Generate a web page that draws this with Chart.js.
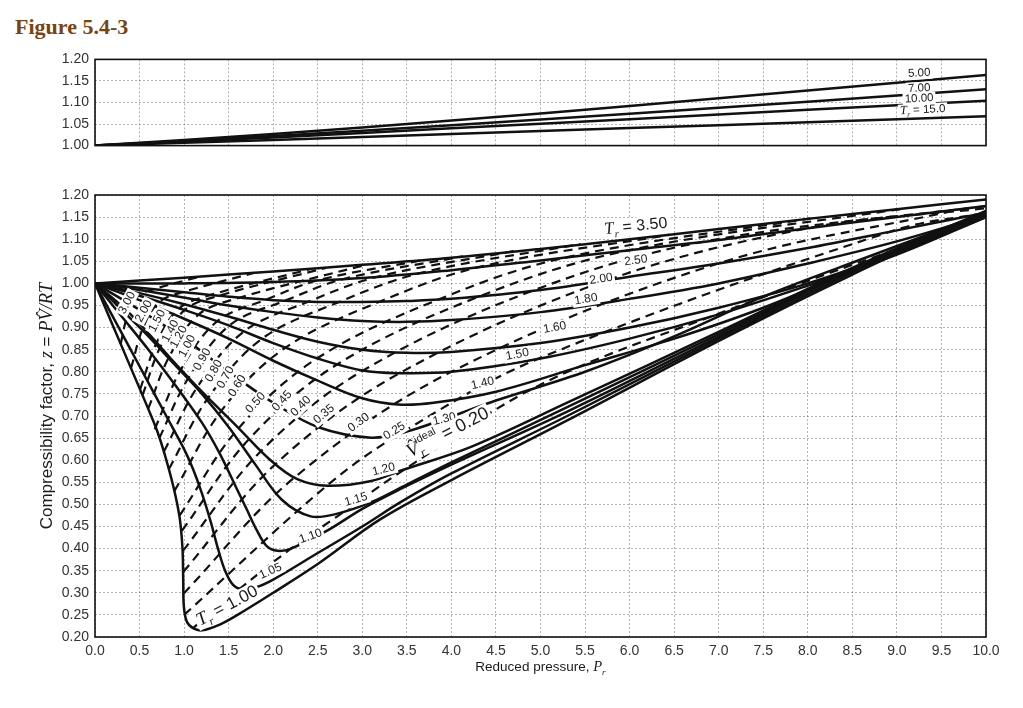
<!DOCTYPE html>
<html lang="en">
<head>
<meta charset="UTF-8">
<title>Figure 5.4-3</title>
<script src="https://cdn.jsdelivr.net/npm/chart.js"></script>
<style>
  body { margin: 0; background: #fff; width: 1023px; height: 708px; overflow: hidden; position: relative; }
  #fig { position: absolute; left: 15px; top: 14px; font: bold 22px "Liberation Serif", serif; color: #7a4410; }
  #topWrap { position: absolute; left: 0; top: 45px; width: 1023px; height: 115px; }
  #mainWrap { position: absolute; left: 0; top: 180px; width: 1023px; height: 528px; }
</style>
</head>
<body>
<div id="fig">Figure 5.4-3</div>
<div id="topWrap"><canvas id="topChart" width="1023" height="115"></canvas></div>
<div id="mainWrap"><canvas id="mainChart" width="1023" height="528"></canvas></div>
<script>
// ---- isotherms, high Tr (upper panel): [Pr, z]
const tr500 = [[0,1],[2,1.027],[4,1.058],[6,1.092],[8,1.128],[10,1.164]];
const tr700 = [[0,1],[2,1.022],[4,1.047],[6,1.074],[8,1.102],[10,1.131]];
const tr1000 = [[0,1],[2,1.019],[4,1.040],[6,1.061],[8,1.083],[10,1.104]];
const tr1500 = [[0,1],[2,1.013],[4,1.027],[6,1.041],[8,1.054],[10,1.068]];

// ---- isotherms (main panel)
const tr100 = [[0,1],[0.2,0.905],[0.4,0.81],[0.6,0.715],[0.7,0.665],[0.78,0.615],[0.88,0.54],[0.95,0.47],[0.982,0.40],[0.99,0.33],[0.997,0.27],[1.03,0.235],[1.1,0.22],[1.2,0.215],[1.4,0.228],[1.6,0.25],[2.0,0.30],[2.5,0.365],[3.2,0.466],[4.0,0.555],[5.3,0.69],[7.1,0.88],[8.5,1.02],[10,1.16]];
const tr105 = [[0,1],[0.2,0.925],[0.4,0.85],[0.6,0.775],[0.8,0.70],[1.0,0.625],[1.1,0.58],[1.2,0.525],[1.3,0.46],[1.38,0.40],[1.46,0.35],[1.55,0.318],[1.65,0.308],[1.8,0.312],[2.0,0.33],[2.5,0.39],[3.0,0.45],[3.43,0.505],[4.0,0.57],[5.3,0.70],[7.1,0.885],[8.5,1.025],[10,1.162]];
const tr110 = [[0,1],[0.3,0.925],[0.6,0.85],[0.9,0.77],[1.2,0.685],[1.4,0.615],[1.58,0.54],[1.7,0.49],[1.82,0.44],[1.93,0.405],[2.05,0.395],[2.2,0.40],[2.6,0.44],[3.0,0.49],[3.43,0.535],[4.0,0.59],[5.3,0.71],[7.1,0.89],[8.5,1.03],[10,1.163]];
const tr115 = [[0,1],[0.3,0.94],[0.6,0.88],[0.9,0.815],[1.2,0.75],[1.5,0.675],[1.8,0.59],[2.1,0.51],[2.42,0.473],[2.7,0.478],[3.1,0.505],[3.5,0.545],[4.0,0.595],[5.3,0.72],[7.1,0.895],[8.5,1.032],[10,1.163]];
const tr120 = [[0,1],[0.4,0.93],[0.85,0.83],[1.2,0.755],[1.6,0.675],[1.97,0.60],[2.27,0.557],[2.61,0.542],[3.1,0.553],[3.47,0.579],[4.22,0.63],[5.3,0.73],[7.1,0.90],[8.5,1.035],[10,1.164]];
const tr130 = [[0,1],[0.5,0.94],[1.0,0.875],[1.5,0.80],[2.0,0.73],[2.5,0.675],[3.1,0.651],[3.5,0.665],[3.92,0.693],[4.5,0.735],[5.5,0.80],[6.5,0.88],[7.5,0.97],[8.7,1.062],[10,1.16]];
const tr140 = [[0,1],[0.5,0.962],[1.0,0.92],[1.5,0.875],[2.0,0.825],[2.5,0.78],[3.0,0.74],[3.4,0.726],[3.8,0.73],[4.5,0.755],[5.5,0.815],[6.5,0.875],[7.5,0.945],[8.7,1.045],[10,1.155]];
const tr150 = [[0,1],[0.5,0.972],[1.0,0.94],[1.5,0.905],[2.0,0.865],[2.5,0.83],[3.0,0.803],[3.4,0.797],[4.0,0.80],[5.0,0.83],[6.0,0.875],[7.0,0.93],[8.0,0.995],[9.0,1.065],[10,1.15]];
const tr160 = [[0,1],[0.5,0.978],[1.0,0.953],[1.5,0.925],[2.0,0.895],[2.5,0.868],[3.0,0.85],[3.5,0.843],[4.0,0.845],[5.0,0.865],[6.0,0.90],[7.0,0.945],[8.0,1.0],[9.0,1.07],[10,1.15]];
const tr180 = [[0,1],[0.5,0.985],[1.0,0.968],[1.5,0.95],[2.0,0.935],[2.5,0.923],[3.0,0.915],[3.5,0.913],[4.0,0.917],[5.0,0.935],[6.0,0.965],[7.0,1.0],[8.0,1.045],[9.0,1.095],[10,1.155]];
const tr200 = [[0,1],[0.5,0.99],[1.0,0.98],[1.5,0.97],[2.0,0.962],[2.5,0.958],[3.0,0.958],[3.5,0.96],[4.0,0.965],[5.0,0.985],[6.0,1.015],[7.0,1.045],[8.0,1.08],[9.0,1.12],[10,1.16]];
const tr250 = [[0,1],[1,1.0],[2,1.003],[3,1.012],[4,1.03],[5,1.052],[6,1.075],[7,1.098],[8,1.125],[9,1.15],[10,1.175]];
const tr350 = [[0,1],[1,1.013],[2,1.027],[3,1.042],[4,1.058],[5,1.078],[6,1.10],[7,1.123],[8,1.146],[9,1.168],[10,1.19]];

// ---- constant ideal reduced volume (dashed)
const vr300 = [[0.288,0.863],[0.375,0.935],[0.488,0.973],[0.658,0.987],[1.19,1.016]];
const vr200 = [[0.404,0.808],[0.54,0.90],[0.72,0.958],[0.98,0.98],[1.79,1.024]];
const vr150 = [[0.506,0.76],[0.69,0.865],[0.942,0.943],[1.3,0.974],[2.41,1.032]];
const vr140 = [[0.533,0.747],[0.735,0.857],[1.007,0.94],[1.39,0.972],[2.59,1.035]];
const vr120 = [[0.596,0.716],[0.83,0.833],[1.16,0.929],[1.61,0.967],[3.04,1.042]];
const vr100 = [[0.67,0.67],[0.97,0.807],[1.37,0.914],[1.93,0.964],[2.52,1.008],[3.69,1.053]];
const vr090 = [[0.722,0.65],[1.045,0.785],[1.51,0.905],[2.135,0.961],[2.81,1.011],[4.13,1.061]];
const vr080 = [[0.775,0.62],[1.15,0.766],[1.67,0.891],[2.4,0.959],[3.17,1.015],[4.7,1.073]];
const vr070 = [[0.83,0.58],[1.27,0.741],[1.875,0.875],[2.74,0.958],[3.66,1.024],[5.45,1.089]];
const vr060 = [[0.89,0.53],[1.43,0.715],[2.14,0.855],[3.2,0.959],[4.33,1.038],[6.45,1.11]];
const vr050 = [[0.95,0.475],[1.61,0.672],[2.49,0.83],[3.86,0.964],[5.29,1.059],[8.03,1.147]];
const vr045 = [[0.975,0.44],[1.73,0.648],[2.72,0.817],[4.32,0.971],[5.97,1.074],[9.1,1.17]];
const vr040 = [[0.987,0.395],[1.87,0.622],[3.01,0.803],[4.92,0.984],[6.85,1.095],[10,1.175]];
const vr035 = [[0.99,0.347],[2.03,0.592],[3.42,0.797],[5.76,1.008],[8.03,1.126],[10,1.17]];
const vr030 = [[0.993,0.298],[2.24,0.561],[4.0,0.80],[6.96,1.043],[9.72,1.168]];
const vr025 = [[1.0,0.25],[2.6,0.542],[3.44,0.662],[4.98,0.83],[8.97,1.12],[10,1.16]];
const vr020 = [[1.1,0.22],[1.6,0.305],[2.2,0.40],[2.72,0.473],[3.45,0.576],[5.0,0.771],[6.98,0.93],[10,1.15]];

const upperCurves = [tr500, tr700, tr1000, tr1500];
const mainCurves = [tr100, tr105, tr110, tr115, tr120, tr130, tr140, tr150, tr160, tr180, tr200, tr250, tr350];
const vrCurves = [vr300, vr200, vr150, vr140, vr120, vr100, vr090, vr080, vr070, vr060, vr050, vr045, vr040, vr035, vr030, vr025, vr020];
const vrNames = ['3.00','2.00','1.50','1.40','1.20','1.00','0.90','0.80','0.70','0.60','0.50','0.45','0.40','0.35','0.30','0.25'];

// where the curve labels sit, in data units [Pr, z, angle]
const vrLabelSpots = [[0.361,0.956,-62],[0.549,0.937,-62],[0.698,0.915,-62],[0.848,0.892,-62],[0.942,0.879,-62],[1.036,0.858,-62],
  [1.204,0.828,-60],[1.335,0.802,-60],[1.466,0.787,-60],[1.597,0.768,-58],[1.803,0.73,-48],[2.10,0.734,-48],[2.31,0.722,-45],
  [2.57,0.704,-40],[2.96,0.685,-36],[3.36,0.666,-32]];
const trNames = ['1.05','1.10','1.15','1.20','1.30','1.40','1.50','1.60','1.80','2.00','2.50'];
const trLabelSpots = [[1.97,0.349,-24],[2.42,0.428,-20],[2.93,0.511,-16],[3.24,0.579,-14],[3.92,0.693,-13],[4.35,0.774,-13],
  [4.74,0.839,-11],[5.16,0.900,-11],[5.51,0.964,-9],[5.68,1.010,-8],[6.07,1.052,-7]];
const upperNames = ['5.00','7.00','10.00'];
const upperLabelSpots = [[9.25,1.168],[9.25,1.133],[9.25,1.109]];

Chart.defaults.font.family = '"Liberation Sans", Arial, sans-serif';
Chart.defaults.color = '#222';

function fontFor(kind, size) {
  if (kind === 'i') return 'italic ' + (size * 1.08).toFixed(1) + 'px "Liberation Serif"';
  if (kind === 's' || kind === 'z') return 'italic ' + (size * 0.68).toFixed(1) + 'px "Liberation Serif"';
  if (kind === 'u') return (size * 0.6).toFixed(1) + 'px "Liberation Sans"';
  return size + 'px "Liberation Sans"';
}

function drawRich(ctx, parts, px, py, rot, size, bg) {
  let w = 0;
  parts.forEach(p => {
    ctx.font = fontFor(p[1], size);
    p.w = ctx.measureText(p[0]).width;
    if (p[1] !== 'z') w += p.w;
  });
  ctx.save();
  ctx.translate(px, py);
  ctx.rotate(rot * Math.PI / 180);
  if (bg) {
    ctx.fillStyle = '#fff';
    ctx.fillRect(-w / 2 - 2, -size * 0.55, w + 4, size * 1.1);
  }
  ctx.fillStyle = '#1a1a1a';
  ctx.textBaseline = 'middle';
  ctx.textAlign = 'left';
  let cx = -w / 2;
  parts.forEach(p => {
    ctx.font = fontFor(p[1], size);
    let dy = 0;
    if (p[1] === 's' || p[1] === 'z') dy = size * 0.38;
    if (p[1] === 'u') dy = -size * 0.42;
    ctx.fillText(p[0], cx, dy);
    if (p[1] !== 'z') cx += p.w;
  });
  ctx.restore();
}

function textLayer(labels, extra) {
  return {
    id: 'textLayer',
    afterDatasetsDraw(chart) {
      const { ctx, chartArea: a, scales } = chart;
      ctx.save();
      ctx.strokeStyle = '#111';
      ctx.lineWidth = 1.6;
      ctx.strokeRect(a.left, a.top, a.right - a.left, a.bottom - a.top);
      ctx.restore();
      labels.forEach(l => {
        drawRich(ctx, l.parts, scales.x.getPixelForValue(l.x), scales.y.getPixelForValue(l.y), l.rot, l.size, l.bg !== false);
      });
      if (extra) extra(chart);
    }
  };
}

function lineSet(points, dashed, width) {
  return {
    data: points.map(p => ({ x: p[0], y: p[1] })),
    borderColor: '#111',
    borderWidth: width,
    borderDash: dashed ? [9, 6] : [],
    pointRadius: 0,
    tension: 0.35,
    fill: false
  };
}

const gridStyle = { color: 'rgba(0,0,0,0.3)', lineWidth: 1, drawTicks: false };

function xAxis(showTicks, h) {
  return {
    type: 'linear', min: 0, max: 10,
    grid: gridStyle,
    border: { display: false, dash: [2, 2] },
    ticks: { display: showTicks, stepSize: 0.5, padding: 6, font: { size: 14 }, color: '#333', maxRotation: 0,
             callback: v => v.toFixed(1) },
    afterFit: s => { s.height = h; }
  };
}
function yAxis(min, max) {
  return {
    type: 'linear', min: min, max: max,
    grid: gridStyle,
    border: { display: false, dash: [2, 2] },
    ticks: { stepSize: 0.05, padding: 6, font: { size: 14 }, color: '#333', callback: v => v.toFixed(2) },
    afterFit: s => { s.width = 95; }
  };
}

// ---------- upper panel
const upperLabels = upperNames.map((n, i) => ({ parts: [[n, 'n']], x: upperLabelSpots[i][0], y: upperLabelSpots[i][1], rot: -3, size: 11.5 }));
upperLabels.push({ parts: [['T', 'i'], ['r', 's'], [' = 15.0', 'n']], x: 9.29, y: 1.083, rot: -3, size: 11.5 });

new Chart(document.getElementById('topChart'), {
  type: 'line',
  data: { datasets: upperCurves.map(c => lineSet(c, false, 2.5)) },
  options: {
    responsive: false, animation: false, events: [],
    layout: { padding: { top: 13, bottom: 10, left: 0, right: 37 } },
    plugins: { legend: { display: false }, tooltip: { enabled: false } },
    scales: { x: xAxis(false, 0), y: yAxis(1.0, 1.2) }
  },
  plugins: [textLayer(upperLabels)]
});

// ---------- main panel
const mainLabels = [];
vrNames.forEach((n, i) => mainLabels.push({ parts: [[n, 'n']], x: vrLabelSpots[i][0], y: vrLabelSpots[i][1], rot: vrLabelSpots[i][2], size: 12 }));
trNames.forEach((n, i) => mainLabels.push({ parts: [[n, 'n']], x: trLabelSpots[i][0], y: trLabelSpots[i][1], rot: trLabelSpots[i][2], size: 12 }));
mainLabels.push({ parts: [['T', 'i'], ['r', 's'], [' = 3.50', 'n']], x: 6.07, y: 1.129, rot: -6, size: 16 });
mainLabels.push({ parts: [['T', 'i'], ['r', 's'], [' = 1.00', 'n']], x: 1.485, y: 0.27, rot: -28, size: 17 });
mainLabels.push({ parts: [['V\u0302', 'i'], ['r', 'z'], ['ideal', 'u'], [' = 0.20', 'n']], x: 3.96, y: 0.662, rot: -27, size: 18 });

function axisTitles(chart) {
  const { ctx, chartArea: a } = chart;
  drawRich(ctx, [['Compressibility factor, ', 'n'], ['z', 'i'], [' = ', 'n'], ['PV\u0302/RT', 'i']],
    a.left - 48, (a.top + a.bottom) / 2 - 10, -90, 17, false);
  drawRich(ctx, [['Reduced pressure, ', 'n'], ['P', 'i'], ['r', 's']], (a.left + a.right) / 2, a.bottom + 30, 0, 13.5, false);
}

new Chart(document.getElementById('mainChart'), {
  type: 'line',
  data: {
    datasets: mainCurves.map(c => lineSet(c, false, 2.5)).concat(vrCurves.map(c => lineSet(c, true, 2.2)))
  },
  options: {
    responsive: false, animation: false, events: [],
    layout: { padding: { top: 15, bottom: 26, left: 0, right: 37 } },
    plugins: { legend: { display: false }, tooltip: { enabled: false } },
    scales: { x: xAxis(true, 45), y: yAxis(0.2, 1.2) }
  },
  plugins: [textLayer(mainLabels, axisTitles)]
});
</script>
</body>
</html>
